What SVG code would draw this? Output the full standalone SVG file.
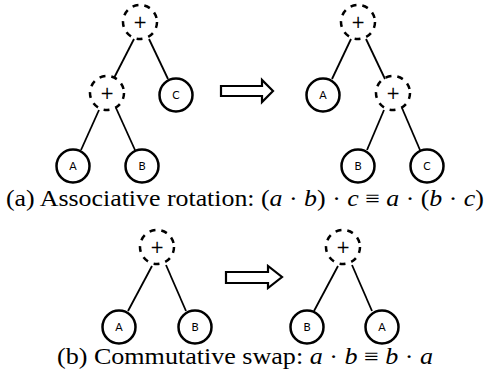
<svg xmlns="http://www.w3.org/2000/svg" width="487" height="377" viewBox="0 0 487 377">
<style>
.leaf{fill:#fff;stroke:#000;stroke-width:2.5}
.op{fill:none;stroke:#000;stroke-width:2.5;stroke-dasharray:6 6}
.lab{font-family:Lato,"Open Sans","DejaVu Sans",sans-serif;font-size:11px;text-anchor:middle;fill:#000}
.plus{font-family:"DejaVu Sans",sans-serif;font-size:17px;text-anchor:middle;fill:#000}
.edge{stroke:#000;stroke-width:1.8;fill:none}
.arrow{fill:#fff;stroke:#000;stroke-width:2.2;stroke-linejoin:miter}
.cap{font-family:"Liberation Serif","DejaVu Serif",serif;font-size:23px;fill:#000}
.m{font-style:italic}
</style>
<rect width="487" height="377" fill="#fff"/>
<g id="connectors">
<line class="edge" x1="134" y1="39" x2="114" y2="78"/>
<line class="edge" x1="149" y1="39" x2="168" y2="79"/>
<line class="edge" x1="99" y1="110" x2="81" y2="150"/>
<line class="edge" x1="116" y1="108" x2="135" y2="150"/>
<line class="edge" x1="351" y1="39" x2="332" y2="79"/>
<line class="edge" x1="366" y1="39" x2="385" y2="79"/>
<line class="edge" x1="384" y1="110" x2="367" y2="150"/>
<line class="edge" x1="402" y1="108" x2="420" y2="150"/>
<line class="edge" x1="152" y1="266" x2="128" y2="311"/>
<line class="edge" x1="166" y1="265" x2="186" y2="311"/>
<line class="edge" x1="338" y1="266" x2="314" y2="311"/>
<line class="edge" x1="352" y1="265" x2="372" y2="311"/>
<polygon class="arrow" points="221,86 262,86 262,80 273,91 262,102 262,96 221,96"/>
<polygon class="arrow" points="226,272 268,272 268,266 282,277 268,288 268,283 226,283"/>
</g>
<g id="a_top"><circle class="op" cx="140" cy="22" r="17"/><text class="plus" x="140" y="28">+</text></g>
<g id="a_mid"><circle class="op" cx="107" cy="93" r="17"/><text class="plus" x="107" y="99">+</text></g>
<g id="a_C"><circle class="leaf" cx="176" cy="95" r="16.5"/><text class="lab" x="176" y="99">C</text></g>
<g id="a_A"><circle class="leaf" cx="73" cy="166" r="16.5"/><text class="lab" x="73" y="170">A</text></g>
<g id="a_B"><circle class="leaf" cx="142" cy="166" r="16.5"/><text class="lab" x="142" y="170">B</text></g>
<g id="a2_top"><circle class="op" cx="358" cy="22" r="17"/><text class="plus" x="358" y="28">+</text></g>
<g id="a2_A"><circle class="leaf" cx="323" cy="95" r="16.5"/><text class="lab" x="323" y="99">A</text></g>
<g id="a2_mid"><circle class="op" cx="393" cy="93" r="17"/><text class="plus" x="393" y="99">+</text></g>
<g id="a2_B"><circle class="leaf" cx="358" cy="166" r="16.5"/><text class="lab" x="358" y="170">B</text></g>
<g id="a2_C"><circle class="leaf" cx="427" cy="166" r="16.5"/><text class="lab" x="427" y="170">C</text></g>
<text class="cap" x="6" y="206" textLength="478" lengthAdjust="spacingAndGlyphs">(a) Associative rotation: (<tspan class="m">a</tspan> · <tspan class="m">b</tspan>) · <tspan class="m">c</tspan> ≡ <tspan class="m">a</tspan> · (<tspan class="m">b</tspan> · <tspan class="m">c</tspan>)</text>
<g id="b_top"><circle class="op" cx="157" cy="247" r="17"/><text class="plus" x="157" y="253">+</text></g>
<g id="b_A"><circle class="leaf" cx="119" cy="327" r="16.5"/><text class="lab" x="119" y="331">A</text></g>
<g id="b_B"><circle class="leaf" cx="195" cy="327" r="16.5"/><text class="lab" x="195" y="331">B</text></g>
<g id="b2_top"><circle class="op" cx="343" cy="247" r="17"/><text class="plus" x="343" y="253">+</text></g>
<g id="b2_B"><circle class="leaf" cx="307" cy="327" r="16.5"/><text class="lab" x="307" y="331">B</text></g>
<g id="b2_A"><circle class="leaf" cx="382" cy="327" r="16.5"/><text class="lab" x="382" y="331">A</text></g>
<text class="cap" x="57" y="364" textLength="376" lengthAdjust="spacingAndGlyphs">(b) Commutative swap: <tspan class="m">a</tspan> · <tspan class="m">b</tspan> ≡ <tspan class="m">b</tspan> · <tspan class="m">a</tspan></text>
</svg>
